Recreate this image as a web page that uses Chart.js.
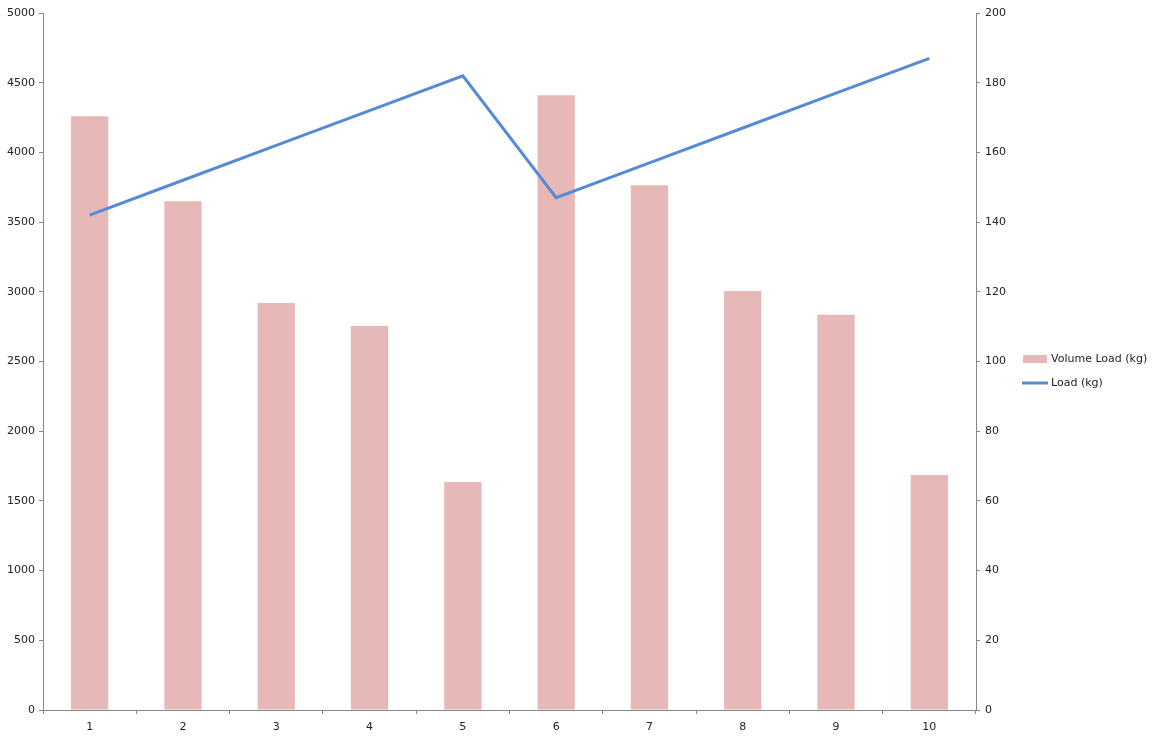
<!DOCTYPE html>
<html>
<head>
<meta charset="utf-8">
<script src="https://cdn.jsdelivr.net/npm/chart.js@4/dist/chart.umd.min.js"></script>
<style>
  html, body { margin: 0; padding: 0; background: #fff; }
  #wrap { width: 1152px; height: 739px; }
</style>
</head>
<body>
<div id="wrap"><canvas id="comboChart"></canvas></div>
<script>
// data
var sessions = ["1", "2", "3", "4", "5", "6", "7", "8", "9", "10"];
var volumeLoad = [4260, 3650, 2920, 2755, 1635, 4410, 3765, 3005, 2835, 1685];
var load = [142, 152, 162, 172, 182, 147, 157, 167, 177, 187];

var axisGray = "#868686";
var barColor = "#E6B9B8";
var lineColor = "#558AD5";

Chart.defaults.font.family = "'DejaVu Sans', sans-serif";
Chart.defaults.font.size = 11;
Chart.defaults.color = "#222";

// legend sits to the right of the secondary axis
var sideLegend = {
  id: "sideLegend",
  afterDraw: function (chart) {
    var c = chart.ctx;
    c.save();
    c.font = "11px 'DejaVu Sans', sans-serif";
    c.textBaseline = "middle";
    c.fillStyle = barColor;
    c.fillRect(1023, 355, 24, 8);
    c.fillStyle = "#222";
    c.fillText("Volume Load (kg)", 1051, 359);
    c.strokeStyle = lineColor;
    c.lineWidth = 3;
    c.beginPath();
    c.moveTo(1022, 383);
    c.lineTo(1048, 383);
    c.stroke();
    c.fillText("Load (kg)", 1051, 383);
    c.restore();
  }
};

var ctx = document.getElementById("comboChart").getContext("2d");
var myChart = new Chart(ctx, {
  type: "bar",
  data: {
    labels: sessions,
    datasets: [
      {
        type: "line",
        label: "Load (kg)",
        data: load,
        yAxisID: "y2",
        borderColor: lineColor,
        borderWidth: 3,
        pointRadius: 0,
        tension: 0,
        order: 0
      },
      {
        label: "Volume Load (kg)",
        data: volumeLoad,
        yAxisID: "y",
        backgroundColor: barColor,
        borderWidth: 0,
        categoryPercentage: 1,
        barPercentage: 0.4,
        order: 1
      }
    ]
  },
  options: {
    responsive: true,
    maintainAspectRatio: false,
    animation: false,
    layout: { padding: { top: 13, right: 0, bottom: 0, left: 0 } },
    plugins: {
      legend: { display: false },
      tooltip: { enabled: false }
    },
    scales: {
      x: {
        offset: true,
        grid: { offset: true, drawOnChartArea: false, color: axisGray, tickLength: 4 },
        border: { color: axisGray },
        ticks: { padding: 7 },
        afterFit: function (s) { s.height = 29; }
      },
      y: {
        position: "left",
        min: 0,
        max: 5000,
        ticks: { stepSize: 500, padding: 4, callback: function (v) { return String(v); } },
        grid: { drawOnChartArea: false, color: axisGray, tickLength: 4 },
        border: { color: axisGray },
        afterFit: function (s) { s.width = 43; }
      },
      y2: {
        position: "right",
        min: 0,
        max: 200,
        ticks: { stepSize: 20, padding: 5, callback: function (v) { return String(v); } },
        grid: { drawOnChartArea: false, color: axisGray, tickLength: 4 },
        border: { color: axisGray },
        afterFit: function (s) { s.width = 176; }
      }
    }
  },
  plugins: [sideLegend]
});
</script>
</body>
</html>
